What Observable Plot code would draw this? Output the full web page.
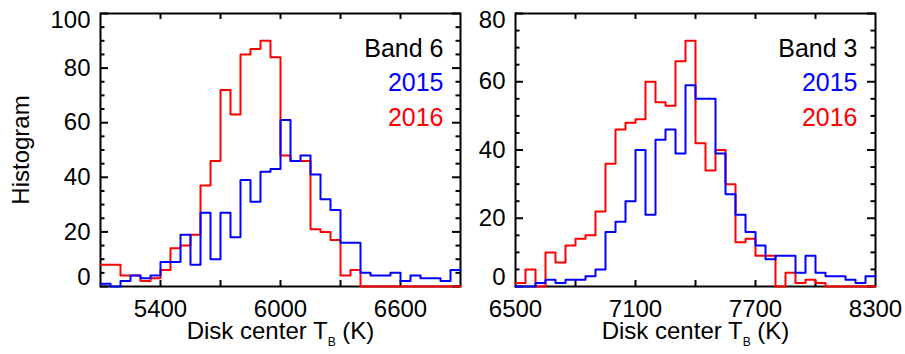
<!DOCTYPE html>
<html>
<head>
<meta charset="utf-8">
<script src="https://cdn.jsdelivr.net/npm/d3@7"></script>
<script src="https://cdn.jsdelivr.net/npm/@observablehq/plot@0.6"></script>
<style>
  body { margin: 0; background: #fff; }
  #chart { position: relative; width: 905px; height: 354px; }
  #chart svg { position: absolute; left: 0; top: 0; }
</style>
</head>
<body>
<div id="chart"></div>
<script>
// Histograms of disk-center brightness temperature, 50 K bins.
const binWidth = 50;

// Band 6: bins from 5100 K to 6900 K
const band6Start = 5100;
const band6Counts2015 = [1, 0, 2, 4, 3, 4, 9, 9, 19, 8, 27, 10, 27, 18, 39, 31, 42, 43,
                         61, 46, 48, 41, 32, 28, 16, 16, 5, 4, 4, 5, 2, 4, 3, 3, 2, 6];
const band6Counts2016 = [8, 8, 4, 4, 2, 3, 6, 14, 15, 19, 37, 46, 72, 63, 85, 87, 90, 84,
                         48, 46, 46, 21, 20, 17, 4, 6, 0, 0, 0, 0, 0, 0, 0, 0, 0, 0];
const band6XDomain = [5100, 6900];
const band6XTicks = [5400, 5700, 6000, 6300, 6600];
const band6XLabels = [5400, 6000, 6600];
const band6YMax = 100;
const band6YLabels = [0, 20, 40, 60, 80, 100];

// Band 3: bins from 6500 K to 8300 K
const band3Start = 6500;
const band3Counts2015 = [0, 0, 1, 2, 1, 2, 2, 3, 5, 16, 19, 25, 40, 21, 43, 46, 39, 59,
                         55, 55, 39, 27, 21, 16, 12, 8, 9, 9, 4, 9, 4, 3, 3, 2, 1, 3];
const band3Counts2016 = [1, 5, 0, 10, 7, 12, 14, 15, 22, 36, 46, 48, 49, 60, 54, 53, 66, 72,
                         42, 34, 40, 30, 13, 14, 9, 9, 0, 4, 1, 2, 1, 0, 0, 0, 0, 0];
const band3XDomain = [6500, 8300];
const band3XTicks = [6800, 7100, 7400, 7700, 8000];
const band3XLabels = [6500, 7100, 7700, 8300];
const band3YMax = 80;
const band3YLabels = [0, 20, 40, 60, 80];

const seriesNames = ["2015", "2016"];
const seriesColors = ["#0000ff", "#ff0000"];
const xTitleParts = ["Disk center T", "B", " (K)"];
const yTitle = "Histogram";

const W = 905, H = 354, TOP = 13, BOTTOM = 68;
const FONT = "'Liberation Sans', Arial, Helvetica, sans-serif";

// Step outline: one point per bin start, plus the right edge of the last bin.
function steps(start, counts) {
  const pts = counts.map((c, i) => ({x: start + i * binWidth, y: c}));
  pts.push({x: start + counts.length * binWidth, y: counts[counts.length - 1]});
  return pts;
}

function panel(o) {
  const frameW = W - o.left - o.right;
  const frameH = H - TOP - BOTTOM;
  const yMinor = d3.range(0, o.yMax + 1, 5).filter(v => v % 20 !== 0);
  const yMajor = o.yLabels;
  const yMid = o.yLabels.filter(v => v !== 0 && v !== o.yMax);
  const fmt = d => String(d);

  const marks = [
    Plot.frame({stroke: "black", strokeWidth: 2}),
    // inward ticks on all four sides
    Plot.tickY(yMajor, {y: d => d, insetRight: frameW - 8, strokeWidth: 2}),
    Plot.tickY(yMinor, {y: d => d, insetRight: frameW - 4.5, strokeWidth: 2}),
    Plot.tickY(yMajor, {y: d => d, insetLeft: frameW - 8, strokeWidth: 2}),
    Plot.tickY(yMinor, {y: d => d, insetLeft: frameW - 4.5, strokeWidth: 2}),
    Plot.tickX(o.xTicks, {x: d => d, insetTop: frameH - 6, strokeWidth: 2}),
    Plot.tickX(o.xTicks, {x: d => d, insetBottom: frameH - 6, strokeWidth: 2}),
    // tick labels
    Plot.axisX({ticks: o.xLabels, tickSize: 0, tickPadding: 13, fontSize: 24, label: null, tickFormat: fmt}),
    Plot.axisY({ticks: yMid, tickSize: 0, tickPadding: 10, fontSize: 24, label: null, tickFormat: fmt}),
    Plot.axisY({ticks: [o.yMax], tickSize: 0, tickPadding: 10, fontSize: 24, label: null, tickFormat: fmt, dy: 6.5}),
    Plot.axisY({ticks: [0], tickSize: 0, tickPadding: 10, fontSize: 24, label: null, tickFormat: fmt, dy: -9}),
    // histograms
    Plot.line(steps(o.start, o.counts2016), {x: "x", y: "y", curve: "step-after", stroke: seriesColors[1], strokeWidth: 2}),
    Plot.line(steps(o.start, o.counts2015), {x: "x", y: "y", curve: "step-after", stroke: seriesColors[0], strokeWidth: 2}),
    // key
    Plot.text([o.band], {frameAnchor: "top-right", dx: o.keyDx, dy: 26, fontSize: 25, fill: "black"}),
    Plot.text([seriesNames[0]], {frameAnchor: "top-right", dx: o.keyDx, dy: 60, fontSize: 25, fill: seriesColors[0]}),
    Plot.text([seriesNames[1]], {frameAnchor: "top-right", dx: o.keyDx, dy: 94.5, fontSize: 25, fill: seriesColors[1]}),
    // x title (subscript added below)
    Plot.text([xTitleParts.join("")], {frameAnchor: "bottom", dy: 52, fontSize: 24, fill: "black"})
  ];
  if (o.yTitle) {
    marks.push(Plot.text([o.yTitle], {frameAnchor: "left", dx: -79, rotate: -90, textAnchor: "middle", fontSize: 24, fill: "black"}));
  }

  const svg = Plot.plot({
    width: W,
    height: H,
    marginLeft: o.left,
    marginRight: o.right,
    marginTop: TOP,
    marginBottom: BOTTOM,
    style: {background: "none", overflow: "visible", fontFamily: FONT, color: "black"},
    x: {domain: o.xDomain},
    y: {domain: [0, o.yMax]},
    marks
  });

  // Rebuild the x title with a subscripted B.
  for (const t of svg.querySelectorAll("text")) {
    if (t.textContent === xTitleParts.join("")) {
      t.textContent = "";
      const ns = "http://www.w3.org/2000/svg";
      const a = document.createElementNS(ns, "tspan");
      a.textContent = xTitleParts[0];
      const b = document.createElementNS(ns, "tspan");
      b.textContent = xTitleParts[1];
      b.setAttribute("dy", "7");
      b.setAttribute("font-size", "12");
      const c = document.createElementNS(ns, "tspan");
      c.textContent = xTitleParts[2];
      c.setAttribute("dy", "-7");
      t.append(a, b, c);
    }
  }
  return svg;
}

const chart = document.getElementById("chart");
chart.append(panel({
  left: 100, right: 445, start: band6Start, counts2015: band6Counts2015, counts2016: band6Counts2016,
  xDomain: band6XDomain, xTicks: band6XTicks, xLabels: band6XLabels,
  yMax: band6YMax, yLabels: band6YLabels, band: "Band 6", keyDx: -17, yTitle
}));
chart.append(panel({
  left: 515, right: 30, start: band3Start, counts2015: band3Counts2015, counts2016: band3Counts2016,
  xDomain: band3XDomain, xTicks: band3XTicks, xLabels: band3XLabels,
  yMax: band3YMax, yLabels: band3YLabels, band: "Band 3", keyDx: -18, yTitle: null
}));
</script>
</body>
</html>
